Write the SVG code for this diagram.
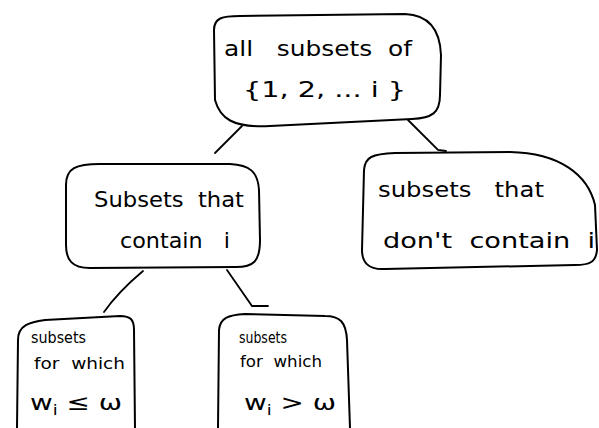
<svg xmlns="http://www.w3.org/2000/svg" width="599" height="428" viewBox="0 0 599 428">
<style>
.box{fill:none;stroke:#000;stroke-width:2;stroke-linejoin:round;stroke-linecap:round}
.edge{fill:none;stroke:#000;stroke-width:1.8;stroke-linecap:round}
text{font-family:"DejaVu Sans","Liberation Sans",sans-serif;font-size:22px;fill:#000;white-space:pre}
.sm{font-size:15px}
</style>
<rect width="599" height="428" fill="#fff"/>
<g id="connectors">
<path class="edge" d="M242 126 L215 153"/>
<path class="edge" d="M408 120 L438 150 L446 151"/>
<path class="edge" d="M143 271 Q118 292 104 312"/>
<path class="edge" d="M227 270 L252 306 L268 306"/>
</g>
<g id="top">
<path class="box" d="M214 30 C214 18 222 16 240 16 L405 14 C428 15 440 28 441 55 L440 95 C440 113 432 118 412 119 L270 126 C232 128 220 118 215 100 Z"/>
<text x="224" y="56" textLength="188" lengthAdjust="spacingAndGlyphs">all   subsets  of</text>
<text x="243" y="97" textLength="163" lengthAdjust="spacingAndGlyphs">{1, 2, ... i }</text>
</g>
<g id="contain">
<path class="box" d="M66 185 C66 168 76 164 100 164 L230 164 C250 165 258 172 259 190 L260 240 C260 262 253 267 236 267 L90 268 C72 268 66 260 66 245 Z"/>
<text x="94" y="207" textLength="150" lengthAdjust="spacingAndGlyphs">Subsets  that</text>
<text x="120" y="248" textLength="110" lengthAdjust="spacingAndGlyphs">contain   i</text>
</g>
<g id="notcontain">
<path class="box" d="M364 170 C365 157 372 154 395 153 L510 152 C560 153 588 175 595 205 L597 250 C596 262 590 265 575 265 L385 269 C368 270 362 262 362 250 Z"/>
<text x="378" y="197" textLength="166" lengthAdjust="spacingAndGlyphs">subsets   that</text>
<text x="383" y="248" textLength="212" lengthAdjust="spacingAndGlyphs">don't  contain  i</text>
</g>
<g id="le">
<path class="box" d="M17 428 L18 340 C18 325 30 322 45 320 L120 316 C131 316 134 320 134 330 L135 428"/>
<text class="sm" x="31" y="343" textLength="55" lengthAdjust="spacingAndGlyphs">subsets</text>
<text class="sm" x="34" y="369" textLength="91" lengthAdjust="spacingAndGlyphs">for  which</text>
<text x="30" y="410" font-size="24" textLength="92" lengthAdjust="spacingAndGlyphs">w<tspan font-size="14" dy="5">i</tspan><tspan dy="-5"> ≤ ω</tspan></text>
</g>
<g id="gt">
<path class="box" d="M218 428 L219 330 C220 318 228 315 245 314 L325 316 C340 316 346 322 347 340 L350 428"/>
<text class="sm" x="239" y="343" textLength="48" lengthAdjust="spacingAndGlyphs">subsets</text>
<text class="sm" x="240" y="367" textLength="82" lengthAdjust="spacingAndGlyphs">for  which</text>
<text x="244" y="410" font-size="24" textLength="92" lengthAdjust="spacingAndGlyphs">w<tspan font-size="14" dy="5">i</tspan><tspan dy="-5"> &gt; ω</tspan></text>
</g>
</svg>
